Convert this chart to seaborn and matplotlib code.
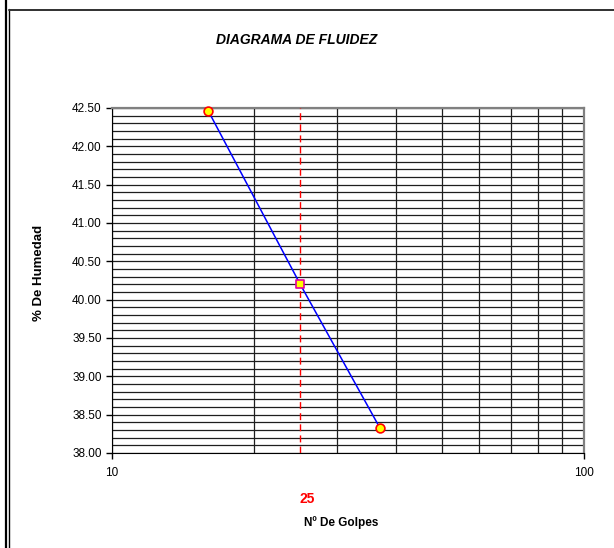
import numpy as np
import pandas as pd
import matplotlib.pyplot as plt
from matplotlib.lines import Line2D
from matplotlib.ticker import FixedLocator, NullFormatter, FormatStrFormatter
import seaborn as sns

# data
golpes = [16, 25, 37]
humedad = [42.46, 40.21, 38.32]
golpes_ref = 25
y_ticks = [38.0, 38.5, 39.0, 39.5, 40.0, 40.5, 41.0, 41.5, 42.0, 42.5]

df = pd.DataFrame({"golpes": golpes, "humedad": humedad})

sns.set_style("white")
plt.rcParams['font.family'] = ['Liberation Sans', 'DejaVu Sans']
plt.rcParams['text.color'] = 'black'
plt.rcParams['xtick.color'] = 'black'
plt.rcParams['ytick.color'] = 'black'

fig = plt.figure(figsize=(6.14, 5.48), dpi=100)
ax = fig.add_axes([0.1824, 0.1734, 0.7687, 0.6296])

ax.set_xscale("log")
ax.set_xlim(10, 100)
ax.set_ylim(38.0, 42.5)

# grid
ax.yaxis.set_major_locator(FixedLocator(y_ticks))
ax.yaxis.set_minor_locator(FixedLocator(np.round(np.arange(38.0, 42.51, 0.1), 2)))
ax.yaxis.set_major_formatter(FormatStrFormatter("%.2f"))
ax.xaxis.set_major_locator(FixedLocator([10, 100]))
ax.xaxis.set_major_formatter(FormatStrFormatter("%d"))
ax.xaxis.set_minor_locator(FixedLocator([20, 30, 40, 50, 60, 70, 80, 90]))
ax.xaxis.set_minor_formatter(NullFormatter())
ax.grid(True, which="both", color="#1e1e1e", linewidth=0.9)
ax.set_axisbelow(True)

ax.tick_params(axis="y", which="major", direction="out", length=4, width=1,
               labelsize=8.5, left=True, colors="black")
ax.tick_params(axis="x", which="major", direction="out", length=4, width=1,
               labelsize=8.5, bottom=True, pad=6, colors="black")
ax.tick_params(which="minor", length=0)

for side in ["top", "right"]:
    ax.spines[side].set_color("#808080")
    ax.spines[side].set_linewidth(1.6)
ax.spines["left"].set_color("black")
ax.spines["bottom"].set_color("black")

# 25 golpes reference
ax.axvline(golpes_ref, color="red", linestyle=(0, (5, 3)), linewidth=1.0, zorder=3)

sns.lineplot(data=df, x="golpes", y="humedad", color="blue", linewidth=1.1,
             ax=ax, zorder=4, sort=False)
ends = df.iloc[[0, 2]]
mid = df.iloc[[1]]
sns.scatterplot(data=ends, x="golpes", y="humedad", marker="o", s=40,
                color="yellow", edgecolor="red", linewidth=1.2, ax=ax,
                zorder=5, clip_on=False)
sns.scatterplot(data=mid, x="golpes", y="humedad", marker="s", s=40,
                color="yellow", edgecolor="#e000a0", linewidth=1.2, ax=ax,
                zorder=5, clip_on=False)

ax.set_xlabel("")
ax.set_ylabel("")

fig.text(0.483, 0.927, "DIAGRAMA DE FLUIDEZ", ha="center", va="center",
         fontsize=10, fontweight="bold", fontstyle="italic")
fig.text(0.064, 0.502, "% De Humedad", ha="center", va="center", rotation=90,
         fontsize=9.5, fontweight="bold")
fig.text(0.500, 0.089, "25", ha="center", va="center", color="red",
         fontsize=10, fontweight="bold")
fig.text(0.555, 0.047, "Nº De Golpes", ha="center", va="center",
         fontsize=8.5, fontweight="bold")

# outer frame: thick outer line + thin inner line on the left, line on top
W, H = 614.0, 548.0
fig.add_artist(Line2D([5.5 / W, 5.5 / W], [0, 1], transform=fig.transFigure,
                      color="black", linewidth=1.6))
fig.add_artist(Line2D([8.5 / W, 8.5 / W], [0, 1 - 9 / H], transform=fig.transFigure,
                      color="black", linewidth=1.0))
fig.add_artist(Line2D([8.5 / W, 1], [1 - 9.5 / H, 1 - 9.5 / H], transform=fig.transFigure,
                      color="#303030", linewidth=1.4))

fig.savefig("out.png", dpi=100)
